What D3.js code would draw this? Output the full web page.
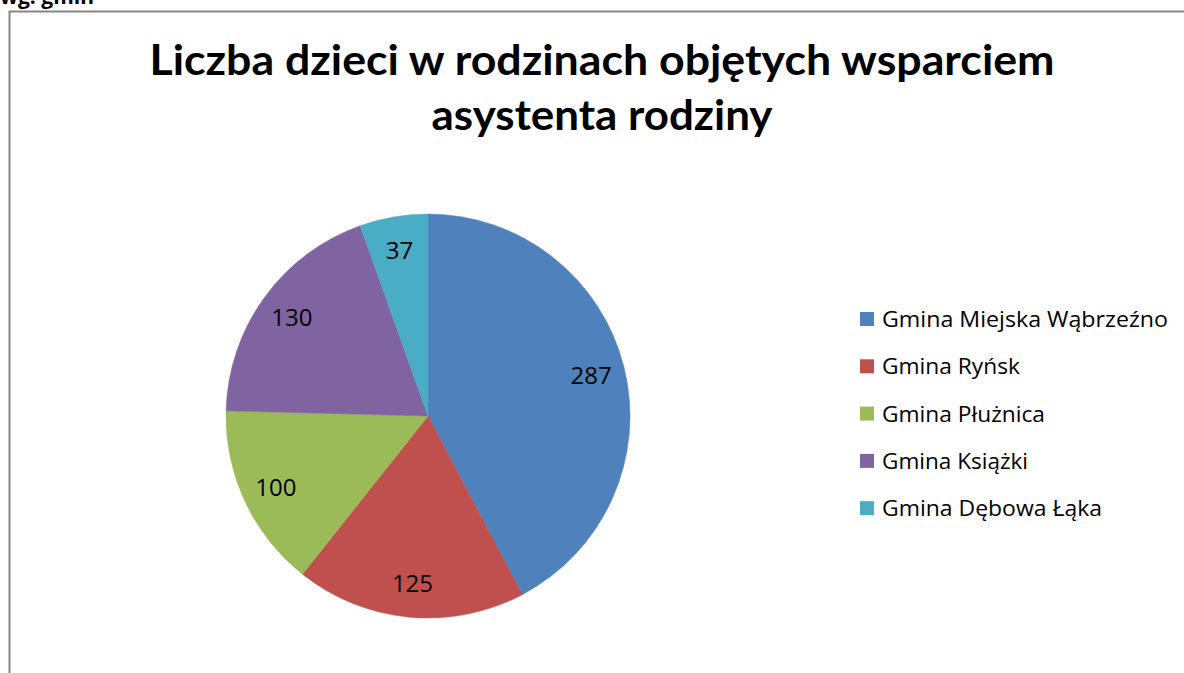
<!DOCTYPE html>
<html>
<head>
<meta charset="utf-8">
<script src="https://cdn.jsdelivr.net/npm/d3@7"></script>
<style>
  body { margin: 0; background: #fff; }
  svg { display: block; font-family: "Open Sans", "Noto Sans", sans-serif; }
</style>
</head>
<body>
<svg id="chart" width="1184" height="673"></svg>
<script>
// data
const gminy = ["Gmina Miejska Wąbrzeźno", "Gmina Ryńsk", "Gmina Płużnica", "Gmina Książki", "Gmina Dębowa Łąka"];
const liczbaDzieci = [287, 125, 100, 130, 37];
const kolory = ["#4F81BD", "#C0504D", "#9BBB59", "#8064A2", "#4BACC6"];
const tytul = ["Liczba dzieci w rodzinach objętych wsparciem", "asystenta rodziny"];
const naglowek = "wg. gmin";

const svg = d3.select("#chart");

// heading above the chart frame (cut off by the page top, as in the source)
svg.append("text")
  .attr("x", 0).attr("y", 4)
  .attr("font-size", 21).attr("font-weight", "bold")
  .text(naglowek);

// chart frame
svg.append("rect")
  .attr("x", 9.5).attr("y", 11.5)
  .attr("width", 1200).attr("height", 700)
  .attr("fill", "none").attr("stroke", "#868686").attr("stroke-width", 2);

// title
const titleWidths = [905, 341];
svg.selectAll("text.title")
  .data(tytul)
  .enter().append("text")
  .attr("class", "title")
  .attr("x", 602)
  .attr("y", (d, i) => 75 + i * 55)
  .attr("text-anchor", "middle")
  .attr("font-family", "Lato, 'Noto Sans', sans-serif")
  .attr("font-size", 42).attr("font-weight", "bold")
  .attr("textLength", (d, i) => titleWidths[i])
  .attr("lengthAdjust", "spacingAndGlyphs")
  .text(d => d);

// pie
const cx = 428, cy = 416, R = 202;
const pie = d3.pie().sort(null).value(d => d)(liczbaDzieci);
const arc = d3.arc().innerRadius(0).outerRadius(R);
const labelArc = d3.arc().innerRadius(168).outerRadius(168);

const g = svg.append("g").attr("transform", `translate(${cx},${cy})`);
g.selectAll("path")
  .data(pie)
  .enter().append("path")
  .attr("d", arc)
  .attr("fill", (d, i) => kolory[i])
  .attr("stroke", (d, i) => kolory[i])
  .attr("stroke-width", 0.5);

g.selectAll("text.lbl")
  .data(pie)
  .enter().append("text")
  .attr("class", "lbl")
  .attr("transform", d => `translate(${labelArc.centroid(d)})`)
  .attr("text-anchor", "middle")
  .attr("dy", "0.36em")
  .attr("font-size", 24)
  .attr("fill", "#000")
  .text(d => d.data);

// legend
const legendWidths = [286, 138, 163, 146, 220];
const legend = svg.append("g").attr("transform", "translate(860,312)");
const rows = legend.selectAll("g")
  .data(gminy)
  .enter().append("g")
  .attr("transform", (d, i) => `translate(0,${i * 47.3})`);
rows.append("rect")
  .attr("width", 14).attr("height", 14)
  .attr("fill", (d, i) => kolory[i]);
rows.append("text")
  .attr("x", 22).attr("y", 15)
  .attr("font-size", 21)
  .attr("textLength", (d, i) => legendWidths[i])
  .attr("lengthAdjust", "spacingAndGlyphs")
  .text(d => d);
</script>
</body>
</html>
